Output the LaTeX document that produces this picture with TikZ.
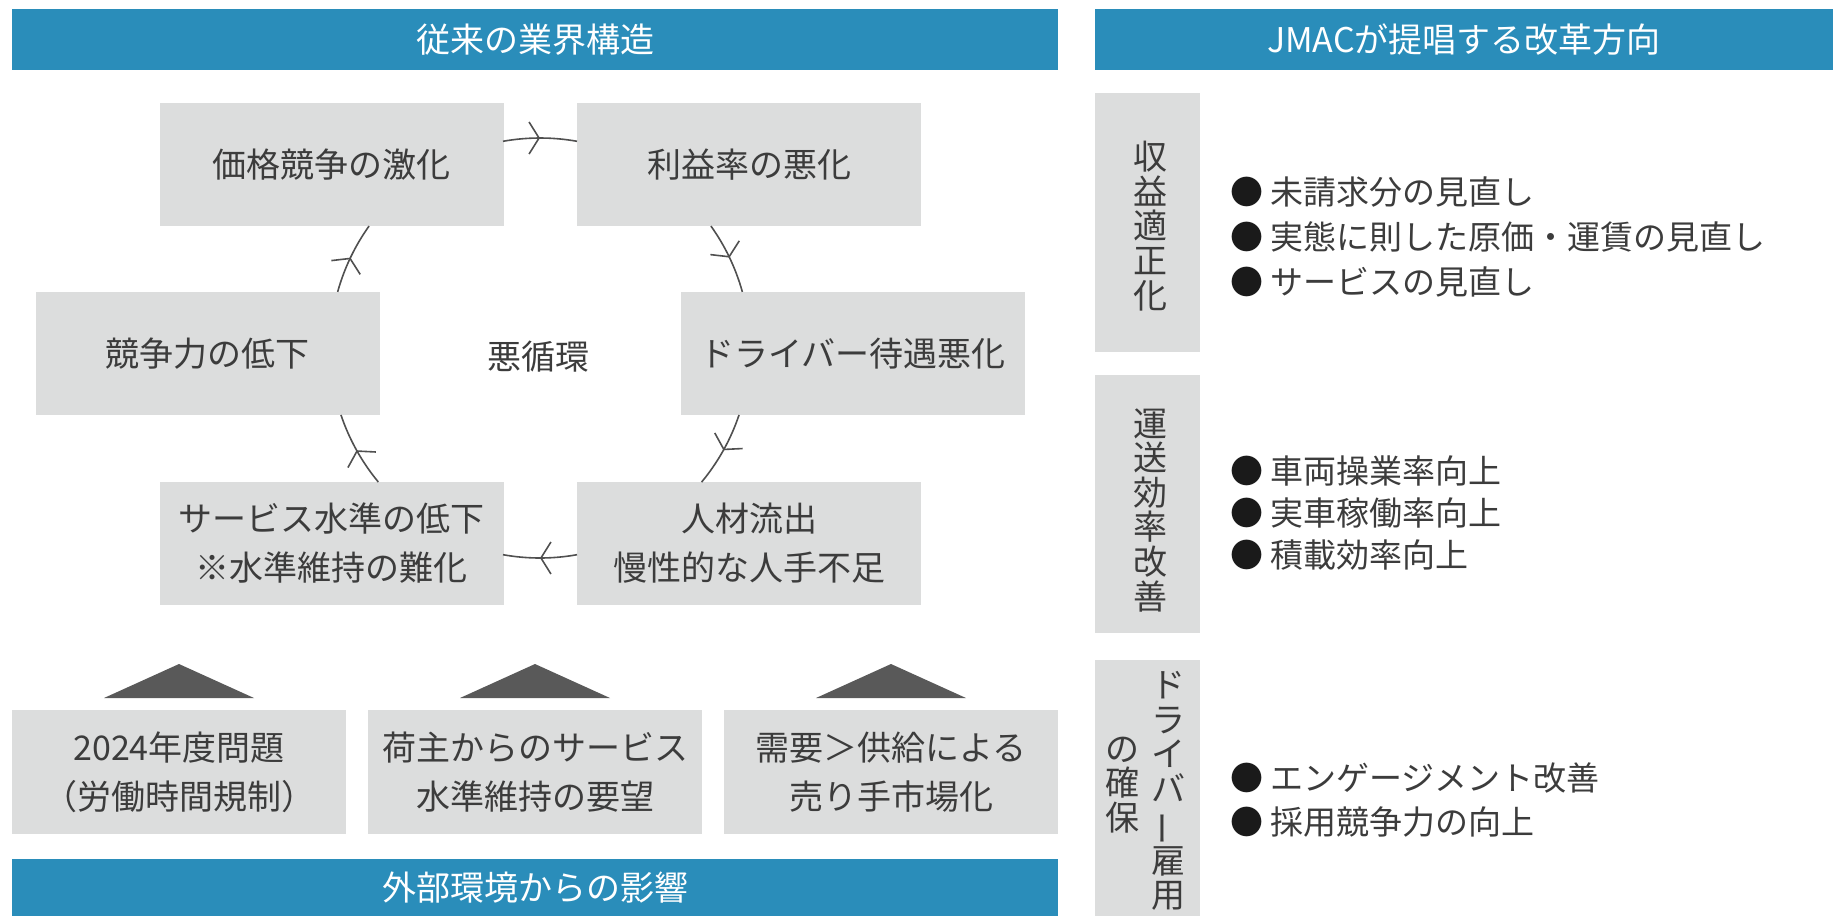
\documentclass[tikz,border=0pt]{standalone}
\usepackage{fontspec}
\usepackage{graphicx}
\setmainfont{Noto Sans CJK JP}
\usetikzlibrary{arrows.meta,decorations.markings,calc}
\definecolor{hdr}{HTML}{2A8DBA}
\definecolor{boxgray}{HTML}{DCDDDD}
\definecolor{txt}{HTML}{3C3C3C}
\definecolor{arc}{HTML}{505050}
\definecolor{tri}{HTML}{595959}
\definecolor{dot}{HTML}{1A1A1A}
\newcommand{\fsz}[2]{\fontsize{#1pt}{#2pt}\selectfont}
\newcommand{\vbar}{\rotatebox[origin=c]{90}{ー}}
\newcommand{\bul}{{\color{dot}●}\ }
\begin{document}
\begin{tikzpicture}[x=1pt,y=-1pt,
  header/.style={fill=hdr, text=white, inner sep=0, font=\fsz{34}{40}},
  cycbox/.style={fill=boxgray, text=txt, minimum width=344pt, minimum height=123pt, inner sep=0, align=center, font=\fsz{34}{49}},
  extbox/.style={fill=boxgray, text=txt, minimum width=334pt, minimum height=124pt, inner sep=0, align=center, font=\fsz{34}{49}},
  sidebox/.style={fill=boxgray, minimum width=105pt, inner sep=0},
  vtext/.style={text=txt, inner sep=0, align=center, font=\fsz{34}{34.6}},
  blist/.style={text=txt, inner sep=0, align=left, anchor=west},
  cyc/.style={draw=arc, line width=1.6pt, postaction={decorate},
    decoration={markings, mark=at position 0.5 with {\arrow{Straight Barb[length=10pt,width=32pt,line width=1.6pt]}}}},
  trishape/.style={fill=tri}
]
\useasboundingbox (0,0) rectangle (1833,916);
% headers
\node[header, minimum width=1046pt, minimum height=61pt] (hl) at (535,39.5) {従来の業界構造};
\node[header, minimum width=738pt, minimum height=61pt] (hr) at (1464,39.5) {JMACが提唱する改革方向};
\node[header, minimum width=1046pt, minimum height=57pt] (hb) at (535,887.5) {外部環境からの影響};
% cycle boxes
\node[cycbox] (b1) at (331.5,164.5) {価格競争の激化};
\node[cycbox] (b2) at (749,164.5) {利益率の悪化};
\node[cycbox] (b3) at (207.5,353.5) {競争力の低下};
\node[cycbox] (b4) at (853,353.5) {ドライバー待遇悪化};
\node[cycbox] (b5) at (331.5,543) {サービス水準の低下\\※水準維持の難化};
\node[cycbox] (b6) at (749,543) {人材流出\\慢性的な人手不足};
\node[text=txt, font=\fsz{34}{40}, inner sep=0] (vc) at (538,357) {悪循環};
% cycle arcs
\coordinate (C) at (540,348);
\coordinate (a1) at ($(C)+(-100.15:210)$);
\coordinate (a2) at ($(C)+(-35.5:210)$);
\coordinate (a3) at ($(C)+(18.6:210)$);
\coordinate (a4) at ($(C)+(79.85:210)$);
\coordinate (a5) at ($(C)+(140.34:210)$);
\coordinate (a6) at ($(C)+(195.5:210)$);
\draw[cyc] (a1) arc[start angle=-100.15, end angle=-79.85, radius=210];
\draw[cyc] (a2) arc[start angle=-35.5, end angle=-15.5, radius=210];
\draw[cyc] (a3) arc[start angle=18.6, end angle=39.7, radius=210];
\draw[cyc] (a4) arc[start angle=79.85, end angle=100.15, radius=210];
\draw[cyc] (a5) arc[start angle=140.34, end angle=161.4, radius=210];
\draw[cyc] (a6) arc[start angle=195.5, end angle=215.5, radius=210];
% external boxes
\node[extbox] (e1) at (179,772) {2024年度問題\\（労働時間規制）};
\node[extbox] (e2) at (535,772) {荷主からのサービス\\水準維持の要望};
\node[extbox] (e3) at (891,772) {需要＞供給による\\売り手市場化};
\fill[trishape] (104,698) -- (254,698) -- (179,664) -- cycle;
\fill[trishape] (460,698) -- (610,698) -- (535,664) -- cycle;
\fill[trishape] (816,698) -- (966,698) -- (891,664) -- cycle;
% right side boxes
\node[sidebox, minimum height=259pt] (s1) at (1147.5,222.5) {};
\node[sidebox, minimum height=258pt] (s2) at (1147.5,504) {};
\node[sidebox, minimum height=256pt] (s3) at (1147.5,788) {};
\node[vtext] (v1) at (1150,226) {収\\益\\適\\正\\化};
\node[vtext] (v2) at (1150,510) {運\\送\\効\\率\\改\\善};
\node[vtext] (v3a) at (1168,791) {ド\\ラ\\イ\\バ\\\vbar\\雇\\用};
\node[vtext] (v3b) at (1122,785) {の\\確\\保};
% bullet lists
\node[blist, font=\fsz{33}{45}] (l1) at (1230,237) {\bul 未請求分の見直し\\\bul 実態に則した原価・運賃の見直し\\\bul サービスの見直し};
\node[blist, font=\fsz{33}{42}] (l2) at (1230,513) {\bul 車両操業率向上\\\bul 実車稼働率向上\\\bul 積載効率向上};
\node[blist, font=\fsz{33}{44}] (l3) at (1230,800) {\bul エンゲージメント改善\\\bul 採用競争力の向上};
\end{tikzpicture}
\end{document}
